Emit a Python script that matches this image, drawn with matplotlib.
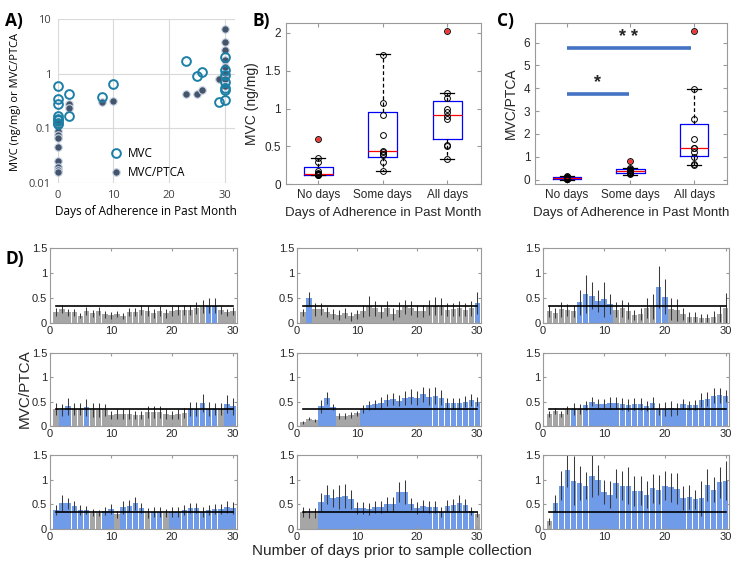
import numpy as np
import matplotlib
matplotlib.use('Agg')
import matplotlib.pyplot as plt

plt.rcParams['font.family'] = ['Liberation Sans', 'DejaVu Sans']

# ---------------- Panel A data ----------------
a_mvc_days = [0, 0, 0, 0, 0, 0, 0, 0, 2, 2, 8, 10, 23, 25, 26, 29, 30, 30, 30, 30, 30, 30, 30]
a_mvc_vals = [0.6, 0.34, 0.28, 0.17, 0.15, 0.14, 0.125, 0.12, 0.43, 0.17, 0.38, 0.65,
              1.73, 0.92, 1.07, 0.30, 0.33, 0.5, 0.55, 0.7, 0.95, 1.2, 2.0]
a_ratio_days = [0, 0, 0, 0, 0, 0, 0, 0, 0, 2, 2, 8, 10, 23, 25, 26, 29, 30, 30, 30, 30, 30, 30, 30, 30]
a_ratio_vals = [0.125, 0.088, 0.076, 0.066, 0.046, 0.025, 0.02, 0.017, 0.016, 0.28, 0.24, 0.30, 0.32,
                0.43, 0.43, 0.5, 0.81, 6.6, 3.9, 2.7, 1.8, 1.36, 1.0, 0.81, 0.6]

# ---------------- Panel B / C data ----------------
groups = ['No days', 'Some days', 'All days']
b_points = [[0.35, 0.29, 0.17, 0.15, 0.14, 0.13, 0.13, 0.12, 0.12],
            [1.71, 1.07, 0.91, 0.65, 0.44, 0.42, 0.40, 0.38, 0.30, 0.17],
            [1.2, 1.14, 1.0, 0.95, 0.9, 0.86, 0.52, 0.5, 0.33]]
b_outliers = [[0.6], [], [2.03]]
b_q1 = [0.12, 0.36, 0.60]
b_med = [0.13, 0.44, 0.92]
b_q3 = [0.23, 0.95, 1.10]
b_lo = [0.12, 0.17, 0.33]
b_hi = [0.35, 1.72, 1.20]

c_points = [[0.15, 0.12, 0.1, 0.08, 0.07, 0.06, 0.05, 0.04, 0.02, 0.02, 0.015],
            [0.5, 0.45, 0.42, 0.4, 0.38, 0.32, 0.3, 0.28, 0.25],
            [3.95, 2.65, 1.8, 1.4, 1.38, 1.2, 1.0, 0.7, 0.62]]
c_outliers = [[], [0.8], [6.5]]
c_q1 = [0.02, 0.28, 1.03]
c_med = [0.06, 0.38, 1.38]
c_q3 = [0.13, 0.45, 2.45]
c_lo = [0.0, 0.22, 0.62]
c_hi = [0.16, 0.50, 3.95]

# significance bars: (start group, end group, level, label)
sig_start = [1, 1]
sig_end = [1.97, 2.95]
sig_level = [3.77, 5.75]
sig_label = ['*', '* *']

# ---------------- Panel D data ----------------
days = np.arange(1, 31)
d_vals = [
    [0.22, 0.28, 0.22, 0.22, 0.15, 0.25, 0.2, 0.24, 0.18, 0.16, 0.18, 0.15, 0.22, 0.22, 0.27,
     0.25, 0.2, 0.24, 0.2, 0.25, 0.27, 0.27, 0.27, 0.3, 0.33, 0.35, 0.35, 0.27, 0.22, 0.24],
    [0.22, 0.5, 0.28, 0.28, 0.22, 0.18, 0.16, 0.2, 0.14, 0.18, 0.25, 0.35, 0.3, 0.22, 0.3,
     0.18, 0.27, 0.32, 0.3, 0.24, 0.24, 0.32, 0.35, 0.33, 0.27, 0.28, 0.3, 0.27, 0.3, 0.4],
    [0.25, 0.2, 0.28, 0.27, 0.25, 0.42, 0.58, 0.55, 0.45, 0.48, 0.38, 0.27, 0.3, 0.25, 0.17,
     0.18, 0.3, 0.33, 0.72, 0.53, 0.28, 0.27, 0.18, 0.12, 0.12, 0.1, 0.1, 0.13, 0.18, 0.3],
    [0.35, 0.33, 0.4, 0.35, 0.35, 0.38, 0.33, 0.33, 0.32, 0.23, 0.25, 0.25, 0.25, 0.22, 0.22,
     0.28, 0.28, 0.28, 0.25, 0.22, 0.25, 0.27, 0.35, 0.35, 0.47, 0.35, 0.35, 0.35, 0.45, 0.4],
    [0.08, 0.15, 0.12, 0.4, 0.57, 0.38, 0.2, 0.2, 0.22, 0.26, 0.35, 0.42, 0.44, 0.47, 0.53,
     0.55, 0.52, 0.57, 0.6, 0.57, 0.65, 0.6, 0.62, 0.58, 0.46, 0.46, 0.46, 0.5, 0.53, 0.5],
    [0.25, 0.3, 0.25, 0.32, 0.35, 0.35, 0.42, 0.5, 0.45, 0.45, 0.47, 0.47, 0.45, 0.43, 0.45,
     0.45, 0.41, 0.47, 0.35, 0.35, 0.36, 0.35, 0.45, 0.42, 0.43, 0.53, 0.55, 0.62, 0.63, 0.62],
    [0.38, 0.53, 0.52, 0.46, 0.38, 0.38, 0.33, 0.32, 0.37, 0.4, 0.3, 0.44, 0.47, 0.52, 0.42,
     0.33, 0.35, 0.35, 0.32, 0.35, 0.35, 0.38, 0.43, 0.43, 0.35, 0.38, 0.4, 0.4, 0.45, 0.43],
    [0.35, 0.33, 0.33, 0.55, 0.7, 0.63, 0.65, 0.67, 0.6, 0.42, 0.43, 0.4, 0.44, 0.44, 0.5,
     0.5, 0.75, 0.75, 0.5, 0.42, 0.46, 0.44, 0.44, 0.35, 0.47, 0.48, 0.52, 0.48, 0.37, 0.3],
    [0.15, 0.52, 0.88, 1.2, 0.98, 0.93, 0.88, 1.08, 1.0, 0.75, 0.7, 0.93, 0.88, 0.88, 0.77,
     0.78, 0.7, 0.83, 0.8, 0.88, 0.85, 0.82, 0.63, 0.65, 0.6, 0.62, 0.9, 0.8, 0.95, 0.98],
]
d_errs = [
    [0.08, 0.08, 0.07, 0.07, 0.05, 0.08, 0.07, 0.08, 0.07, 0.07, 0.06, 0.06, 0.08, 0.08, 0.1,
     0.1, 0.09, 0.1, 0.09, 0.1, 0.1, 0.1, 0.1, 0.12, 0.13, 0.15, 0.15, 0.08, 0.07, 0.08],
    [0.07, 0.13, 0.13, 0.12, 0.1, 0.1, 0.1, 0.1, 0.09, 0.09, 0.12, 0.2, 0.15, 0.12, 0.15,
     0.12, 0.15, 0.14, 0.14, 0.12, 0.12, 0.15, 0.18, 0.17, 0.13, 0.13, 0.15, 0.13, 0.15, 0.22],
    [0.12, 0.1, 0.15, 0.12, 0.12, 0.25, 0.38, 0.27, 0.22, 0.35, 0.2, 0.15, 0.17, 0.17, 0.1,
     0.12, 0.2, 0.25, 0.42, 0.35, 0.22, 0.22, 0.12, 0.1, 0.1, 0.08, 0.08, 0.12, 0.16, 0.3],
    [0.12, 0.12, 0.18, 0.12, 0.13, 0.18, 0.15, 0.14, 0.12, 0.08, 0.1, 0.1, 0.1, 0.08, 0.08,
     0.12, 0.12, 0.12, 0.1, 0.08, 0.1, 0.1, 0.15, 0.15, 0.18, 0.15, 0.13, 0.13, 0.18, 0.17],
    [0.03, 0.03, 0.03, 0.13, 0.12, 0.06, 0.06, 0.06, 0.06, 0.05, 0.08, 0.1, 0.1, 0.12, 0.12,
     0.12, 0.12, 0.15, 0.15, 0.15, 0.15, 0.17, 0.17, 0.15, 0.12, 0.12, 0.12, 0.12, 0.12, 0.1],
    [0.06, 0.06, 0.06, 0.08, 0.12, 0.1, 0.1, 0.1, 0.1, 0.1, 0.12, 0.12, 0.12, 0.12, 0.12,
     0.12, 0.1, 0.12, 0.12, 0.15, 0.15, 0.12, 0.1, 0.1, 0.1, 0.14, 0.15, 0.15, 0.15, 0.12],
    [0.1, 0.17, 0.12, 0.1, 0.1, 0.08, 0.07, 0.06, 0.08, 0.1, 0.07, 0.13, 0.12, 0.13, 0.1,
     0.1, 0.1, 0.1, 0.08, 0.1, 0.1, 0.1, 0.1, 0.1, 0.1, 0.1, 0.1, 0.1, 0.12, 0.12],
    [0.1, 0.1, 0.1, 0.18, 0.2, 0.18, 0.25, 0.25, 0.2, 0.12, 0.12, 0.12, 0.12, 0.12, 0.15,
     0.15, 0.2, 0.25, 0.12, 0.12, 0.12, 0.12, 0.12, 0.1, 0.12, 0.12, 0.17, 0.12, 0.08, 0.06],
    [0.08, 0.18, 0.3, 0.35, 0.5, 0.35, 0.28, 0.42, 0.3, 0.25, 0.28, 0.3, 0.3, 0.38, 0.3,
     0.3, 0.28, 0.3, 0.3, 0.3, 0.3, 0.32, 0.25, 0.25, 0.2, 0.35, 0.33, 0.25, 0.32, 0.4],
]
# 1 = blue (adherent day), 0 = gray
d_blue = [
    [0] * 25 + [1, 1] + [0] * 3,
    [0, 1] + [0] * 27 + [1],
    [0] * 5 + [1] * 6 + [0] * 7 + [1, 1] + [0] * 10,
    [0, 1, 1, 0, 0, 1] + [0] * 16 + [1] * 5 + [0, 1, 1],
    [0, 0, 0, 1, 1, 1, 0, 0, 0, 0] + [1] * 20,
    [0, 0, 0, 0, 1, 0] + [1] * 24,
    [1] * 6 + [0, 0, 1, 1, 0] + [1] * 4 + [0, 1, 1, 0] + [1] * 11,
    [0, 0, 0] + [1] * 26 + [0],
    [0] + [1] * 29,
]
threshold = 0.35

fig = plt.figure(figsize=(7.33, 5.65), dpi=100)

# ---------------- Panel A ----------------
excel_font = ['Open Sans', 'DejaVu Sans']
axA = fig.add_axes([0.079, 0.676, 0.241, 0.290])
axA.set_yscale('log')
axA.plot(a_ratio_days, a_ratio_vals, 'o', ms=5.4, mfc='#44546a', mec='#c8d3e3', mew=0.8,
         linestyle='none', label='MVC/PTCA', zorder=3, clip_on=False)
axA.plot(a_mvc_days, a_mvc_vals, 'o', ms=6.3, mfc='none', mec='#1c7fa6', mew=1.4,
         linestyle='none', label='MVC', zorder=4, clip_on=False)
axA.set_xlim(0, 31.8)
axA.set_ylim(0.01, 10)
axA.set_xticks([0, 10, 20, 30])
axA.set_yticks([0.01, 0.1, 1, 10])
axA.set_yticklabels(['0.01', '0.1', '1', '10'])
axA.minorticks_off()
axA.grid(True, color='#d9d9d9', lw=0.8)
axA.set_axisbelow(True)
for s in axA.spines.values():
    s.set_visible(False)
axA.tick_params(length=0, colors='#404040', labelsize=8, pad=5)
for lab in axA.get_xticklabels() + axA.get_yticklabels():
    lab.set_fontfamily(excel_font)
axA.set_xlabel('Days of Adherence in Past Month', fontsize=8.5, family=excel_font, labelpad=3)
fig.text(0.021, 0.82, 'MVC (ng/mg) or MVC/PTCA', rotation=90, ha='center', va='center',
         fontsize=8, family=excel_font)
h, l = axA.get_legend_handles_labels()
axA.legend(h[::-1], l[::-1], loc='lower left', bbox_to_anchor=(0.2, -0.04), frameon=False,
           handletextpad=0.0, prop={'family': excel_font, 'size': 8.5},
           labelspacing=0.5)


def box_panel(ax, points, outliers, q1, med, q3, lo, hi):
    stats = []
    for i in range(3):
        stats.append(dict(q1=q1[i], med=med[i], q3=q3[i], whislo=lo[i], whishi=hi[i], fliers=[]))
    ax.bxp(stats, positions=[1, 2, 3], widths=0.45, showfliers=False,
           boxprops=dict(color='#0000ff', lw=0.9),
           medianprops=dict(color='#ff0000', lw=0.9),
           whiskerprops=dict(color='black', lw=0.9, linestyle=(0, (3, 2))),
           capprops=dict(color='black', lw=0.9), capwidths=0.22)
    for i in range(3):
        ax.plot([i + 1] * len(outliers[i]), outliers[i], 'o', ms=2.4, color='#ff3030', zorder=4)
        ax.plot([i + 1] * len(outliers[i]), outliers[i], 'o', ms=4.2, mfc='none', mec='black',
                mew=0.7, zorder=5)
        ax.plot([i + 1] * len(points[i]), points[i], 'o', ms=4.2, mfc='none', mec='black',
                mew=0.7, zorder=5)
    ax.set_xlim(0.5, 3.52)
    ax.set_xticks([1, 2, 3])
    ax.set_xticklabels(groups)
    for s in ax.spines.values():
        s.set_color('#9a9a9a')
        s.set_linewidth(0.8)
    ax.tick_params(direction='in', length=3, colors='#9a9a9a', labelcolor='#262626',
                   labelsize=8.5, top=True, right=True)
    ax.set_xlabel('Days of Adherence in Past Month', fontsize=9.5, color='#262626')


# ---------------- Panel B ----------------
axB = fig.add_axes([0.390, 0.674, 0.266, 0.285])
box_panel(axB, b_points, b_outliers, b_q1, b_med, b_q3, b_lo, b_hi)
axB.set_ylim(0, 2.13)
axB.set_yticks([0, 0.5, 1, 1.5, 2])
axB.set_yticklabels(['0', '0.5', '1', '1.5', '2'])
axB.set_ylabel('MVC (ng/mg)', fontsize=10, color='#262626')

# ---------------- Panel C ----------------
axC = fig.add_axes([0.730, 0.674, 0.262, 0.285])
box_panel(axC, c_points, c_outliers, c_q1, c_med, c_q3, c_lo, c_hi)
axC.set_ylim(-0.2, 6.85)
axC.set_yticks(range(7))
axC.set_ylabel('MVC/PTCA', fontsize=10, color='#262626')
for x0, x1, yv, lab in zip(sig_start, sig_end, sig_level, sig_label):
    axC.plot([x0, x1], [yv, yv], color='#4472c4', lw=2.6, solid_capstyle='butt')
    axC.text((x0 + x1) / 2, yv + 0.12, lab, ha='center', va='bottom', fontsize=13,
             fontweight='bold', color='#262626')

# ---------------- Panel D ----------------
col_left = [0.068, 0.405, 0.741]
col_w = [0.255, 0.251, 0.254]
row_bottom = [0.428, 0.246, 0.064]
row_h = [0.133, 0.130, 0.130]
for k in range(9):
    r, c = divmod(k, 3)
    ax = fig.add_axes([col_left[c], row_bottom[r], col_w[c], row_h[r]])
    colors = ['#6f9be8' if b else '#a6a6a6' for b in d_blue[k]]
    ax.bar(days, d_vals[k], width=0.88, color=colors, zorder=1)
    ax.errorbar(days, d_vals[k], yerr=d_errs[k], fmt='none', ecolor='#3a3a3a', elinewidth=0.75,
                capsize=0, zorder=2)
    ax.plot([days[0], days[-1]], [threshold, threshold], color='black', lw=1.2, zorder=3)
    ax.set_xlim(0, 30.6)
    ax.set_ylim(0, 1.5)
    ax.set_xticks([0, 10, 20, 30])
    ax.set_yticks([0, 0.5, 1, 1.5])
    ax.set_yticklabels(['0', '0.5', '1', '1.5'])
    for s in ax.spines.values():
        s.set_color('#9a9a9a')
        s.set_linewidth(0.8)
    ax.tick_params(direction='in', length=2.5, colors='#9a9a9a', labelcolor='#262626',
                   labelsize=8, top=True, right=True, pad=2)

fig.text(0.034, 0.312, 'MVC/PTCA', rotation=90, ha='center', va='center', fontsize=11,
         color='#262626')
fig.text(0.535, 0.024, 'Number of days prior to sample collection', ha='center', va='center',
         fontsize=11, color='#262626')

# panel labels
for txt, x, y in [('A)', 0.007, 0.978), ('B)', 0.345, 0.978), ('C)', 0.678, 0.978),
                  ('D)', 0.007, 0.557)]:
    fig.text(x, y, txt, fontsize=12.5, fontweight='bold', ha='left', va='top',
             family=excel_font)

fig.savefig('out.png', dpi=100)
